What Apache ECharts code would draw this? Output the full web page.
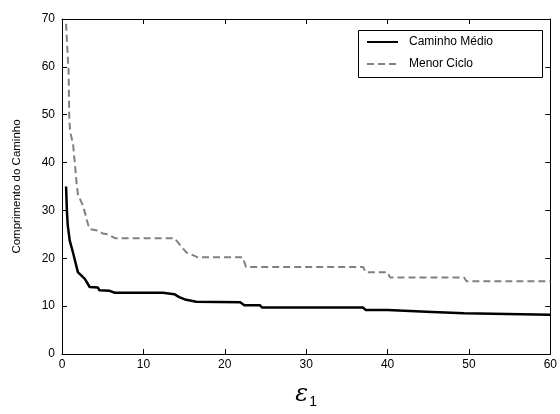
<!DOCTYPE html>
<html>
<head>
<meta charset="utf-8">
<script src="https://cdn.jsdelivr.net/npm/echarts@6/dist/echarts.min.js"></script>
<style>html,body{margin:0;padding:0;background:#fff;}#c{width:560px;height:414px;}</style>
</head>
<body>
<div id="c"></div>
<script>
var seriesNames = ['Caminho Médio', 'Menor Ciclo'];
var xTicks = [0, 10, 20, 30, 40, 50, 60];
var yTicks = [0, 10, 20, 30, 40, 50, 60, 70];

var mediaX = [0.5, 0.6, 0.7, 0.95, 1.35, 1.95, 2.8, 3.4, 4.4, 4.6, 5.85, 6.5, 12.4, 13.8, 14.4, 15.1, 16.5, 21.9, 22.4, 24.3, 24.6, 37.0, 37.3, 40.0, 40.2, 45.5, 45.7, 49.4, 49.6, 60];
var mediaY = [35, 30, 27, 23.7, 21.2, 17.1, 15.7, 14.0, 13.9, 13.3, 13.2, 12.8, 12.8, 12.5, 11.9, 11.4, 10.9, 10.8, 10.2, 10.2, 9.7, 9.7, 9.2, 9.2, 8.8, 8.8, 8.5, 8.5, 8.2, 8.2];

var cicloX = [0.5, 0.74, 0.8, 0.9, 1.0, 1.35, 1.56, 1.77, 1.96, 2.6, 3.2, 3.4, 4.4, 5.0, 5.65, 6.5, 13.8, 14.4, 15.3, 15.6, 16.7, 22.2, 22.6, 37.0, 37.3, 40.0, 40.3, 49.4, 49.7, 60];
var cicloY = [69, 61, 59.8, 49, 46.4, 44, 40.2, 36.1, 33.3, 30.9, 27.1, 26.1, 25.8, 25.2, 25.0, 24.2, 24.2, 23.0, 21.2, 21.0, 20.2, 20.2, 18.2, 18.2, 17.1, 17.1, 16.0, 16.0, 15.2, 15.2];

function pairs(xs, ys) { return xs.map(function (x, i) { return [x, ys[i]]; }); }

var font = 'Liberation Sans, Arial, sans-serif';
var chart = echarts.init(document.getElementById('c'), null, { renderer: 'canvas' });

var axisCommon = {
  axisLine: { show: true, onZero: false, lineStyle: { color: '#000', width: 1 } },
  axisTick: { show: true, inside: true, length: 5, lineStyle: { color: '#000', width: 1 } },
  splitLine: { show: false }
};

chart.setOption({
  animation: false,
  backgroundColor: '#fff',
  grid: { left: 62, right: 9, top: 19, bottom: 56, containLabel: false },
  graphic: [{
    type: 'rect', left: 358, top: 30, z: 3,
    shape: { width: 184, height: 47 },
    style: { fill: '#fff', stroke: '#000', lineWidth: 1 }
  }],
  legend: {
    orient: 'vertical',
    left: 358, top: 30, z: 5,
    data: seriesNames,
    itemWidth: 31, itemHeight: 12,
    itemGap: 10,
    padding: [6, 8, 6, 8],
    itemStyle: { opacity: 0 },
    textStyle: { fontFamily: font, fontSize: 12, color: '#000', padding: [0, 0, 0, 6] }
  },
  xAxis: [
    Object.assign({}, axisCommon, {
      type: 'value', min: xTicks[0], max: xTicks[xTicks.length - 1], interval: 10,
      position: 'bottom',
      axisLabel: { show: true, color: '#000', fontFamily: font, fontSize: 12, margin: 5 },
      name: '{e|ε}{s|1}', nameLocation: 'middle', nameGap: 27,
      nameTextStyle: {
        rich: {
          e: { fontFamily: 'DejaVu Serif, serif', fontStyle: 'italic', fontSize: 24, color: '#000' },
          s: { fontFamily: font, fontSize: 14, color: '#000', padding: [14, 0, 0, 1] }
        }
      }
    }),
    Object.assign({}, axisCommon, {
      type: 'value', min: xTicks[0], max: xTicks[xTicks.length - 1], interval: 10,
      position: 'top', axisLabel: { show: false }
    })
  ],
  yAxis: [
    Object.assign({}, axisCommon, {
      type: 'value', min: yTicks[0], max: yTicks[yTicks.length - 1], interval: 10,
      position: 'left',
      axisLabel: { show: true, color: '#000', fontFamily: font, fontSize: 12, margin: 7 },
      name: 'Comprimento do Caminho', nameLocation: 'middle', nameGap: 39,
      nameTextStyle: { fontFamily: font, fontSize: 11.5, color: '#000' }
    }),
    Object.assign({}, axisCommon, {
      type: 'value', min: yTicks[0], max: yTicks[yTicks.length - 1], interval: 10,
      position: 'right', axisLabel: { show: false }
    })
  ],
  series: [
    {
      name: seriesNames[0], type: 'line', xAxisIndex: 0, yAxisIndex: 0,
      data: pairs(mediaX, mediaY), symbol: 'none',
      lineStyle: { color: '#000', width: 2.5, type: 'solid' },
      itemStyle: { color: '#000' }
    },
    {
      name: seriesNames[1], type: 'line', xAxisIndex: 0, yAxisIndex: 0,
      data: pairs(cicloX, cicloY), symbol: 'none',
      lineStyle: { color: '#808080', width: 2, type: [7, 4] },
      itemStyle: { color: '#808080' }
    }
  ]
});
</script>
</body>
</html>
